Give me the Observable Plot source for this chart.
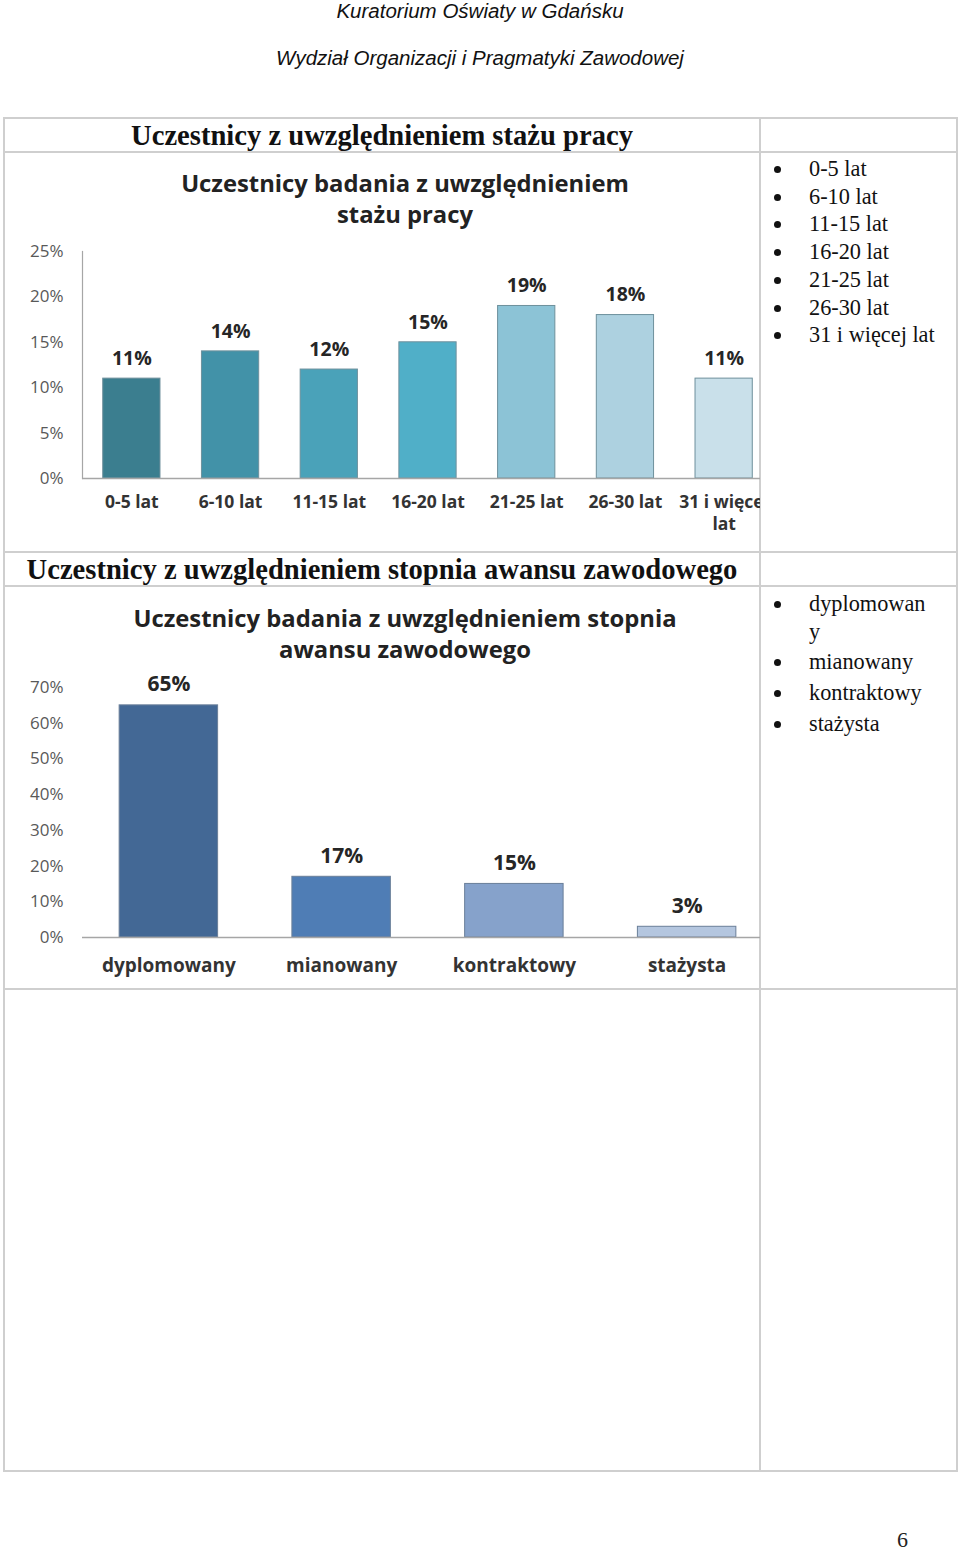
<!DOCTYPE html>
<html>
<head>
<meta charset="utf-8">
<script src="https://cdn.jsdelivr.net/npm/d3@7"></script>
<script src="https://cdn.jsdelivr.net/npm/@observablehq/plot@0.6"></script>
<style>
  html, body { margin: 0; padding: 0; background: #fff; }
  body { width: 960px; height: 1550px; position: relative; overflow: hidden; }
  .abs { position: absolute; }
  .hdr { font-family: "Liberation Sans", Arial, sans-serif; font-style: italic; font-size: 20.5px; color: #111; width: 960px; text-align: center; left: 0; }
  .hl { position: absolute; background: #cfcfcf; height: 2px; }
  .vl { position: absolute; background: #cfcfcf; width: 2px; }
  .sec { font-family: "Liberation Serif", "Times New Roman", serif; font-weight: bold; font-size: 28.6px; color: #111; text-align: center; left: 4px; width: 756px; }
  .ctitle { font-family: "Open Sans", Lato, sans-serif; font-weight: bold; font-size: 23.8px; color: #222; text-align: center; line-height: 31px; }
  ul.leg { position: absolute; margin: 0; padding: 0; list-style: none; font-family: "Liberation Serif", "Times New Roman", serif; font-size: 22.3px; color: #111; }
  ul.leg li { position: relative; padding-left: 47px; width: 140px; line-height: 27.7px; white-space: nowrap; }
  ul.leg li::before { content: ""; position: absolute; left: 12px; top: 11px; width: 7px; height: 7px; border-radius: 50%; background: #111; }
</style>
</head>
<body>
<div class="abs hdr" style="top:-1px;">Kuratorium Oświaty w Gdańsku</div>
<div class="abs hdr" style="top:46px;">Wydział Organizacji i Pragmatyki Zawodowej</div>

<!-- table lines -->
<div class="hl" style="left:4px; width:954px; top:117px;"></div>
<div class="hl" style="left:4px; width:954px; top:151px;"></div>
<div class="hl" style="left:4px; width:954px; top:551px;"></div>
<div class="hl" style="left:4px; width:954px; top:585px;"></div>
<div class="hl" style="left:4px; width:954px; top:988px;"></div>
<div class="hl" style="left:4px; width:954px; top:1470px;"></div>
<div class="vl" style="left:3px; top:117px; height:1355px;"></div>
<div class="vl" style="left:759px; top:117px; height:1355px;"></div>
<div class="vl" style="left:956px; top:117px; height:1355px;"></div>

<div class="abs sec" style="top:120px;">Uczestnicy z uwzględnieniem stażu pracy</div>
<div class="abs sec" style="top:554px;">Uczestnicy z uwzględnieniem stopnia awansu zawodowego</div>

<div id="c1" class="abs" style="left:0; top:152px; width:760px; height:400px; overflow:hidden;"></div>
<div id="c2" class="abs" style="left:0; top:586px; width:760px; height:403px; overflow:hidden;"></div>

<div class="abs ctitle" style="left:55px; width:700px; top:168px;">Uczestnicy badania z uwzględnieniem<br>stażu pracy</div>
<div class="abs ctitle" style="left:55px; width:700px; top:603px;">Uczestnicy badania z uwzględnieniem stopnia<br>awansu zawodowego</div>

<ul class="leg" id="leg1" style="left:762px; top:155px;"></ul>
<ul class="leg" id="leg2" style="left:762px; top:590px;"></ul>

<div class="abs" style="left:897px; top:1527px; font-family:'Liberation Serif',serif; font-size:22px; color:#222;">6</div>

<script>
// ---- Data ----
const stazCategories = ["0-5 lat", "6-10 lat", "11-15 lat", "16-20 lat", "21-25 lat", "26-30 lat", "31 i więcej lat"];
const stazAxisLabels = ["0-5 lat", "6-10 lat", "11-15 lat", "16-20 lat", "21-25 lat", "26-30 lat", "31 i więcej\nlat"];
const stazValues = [11, 14, 12, 15, 19, 18, 11];
const stazColors = ["#3b7e8f", "#4292a8", "#4aa2b9", "#50afc8", "#8cc3d6", "#add1e0", "#c9e0ea"];
const stazTicks = [0, 5, 10, 15, 20, 25];

const awansCategories = ["dyplomowany", "mianowany", "kontraktowy", "stażysta"];
const awansLegend = ["dyplomowan\ny", "mianowany", "kontraktowy", "stażysta"];
const awansValues = [65, 17, 15, 3];
const awansColors = ["#436895", "#4f7db5", "#86a2cb", "#b4c6df"];
const awansTicks = [0, 10, 20, 30, 40, 50, 60, 70];

// ---- Legends ----
function fillLegend(id, items, gap) {
  const ul = document.getElementById(id);
  items.forEach(t => {
    const li = document.createElement("li");
    t.split("\n").forEach((part, k) => {
      if (k) li.appendChild(document.createElement("br"));
      li.appendChild(document.createTextNode(part));
    });
    li.style.marginBottom = gap + "px";
    ul.appendChild(li);
  });
}
fillLegend("leg1", stazCategories, 0);
fillLegend("leg2", awansLegend, 3);

const chartFont = "'Open Sans', Lato, sans-serif";

// ---- Chart 1 ----
const d1 = stazCategories.map((c, i) => ({cat: c, label: stazAxisLabels[i], v: stazValues[i], color: stazColors[i]}));
const chart1 = Plot.plot({
  width: 760, height: 400,
  marginLeft: 82, marginRight: 0, marginTop: 99, marginBottom: 74,
  style: {fontFamily: chartFont, overflow: "hidden", background: "transparent"},
  x: {domain: stazCategories, range: [82, 773], round: false, paddingInner: 0.42, paddingOuter: 0.21, axis: null},
  y: {domain: [0, 25], axis: null},
  marks: [
    Plot.barY(d1, {x: "cat", y: "v", fill: "color", stroke: "#6e909c", strokeWidth: 1}),
    Plot.frame({anchor: "left", stroke: "#a6a6a6", strokeWidth: 1.2}),
    Plot.ruleY([0], {stroke: "#a6a6a6", strokeWidth: 1.5}),
    Plot.axisY({ticks: stazTicks, tickSize: 0, tickPadding: 19, label: null, tickFormat: d => d + "%", fontSize: 17, fill: "#595959"}),
    Plot.text(d1, {x: "cat", y: "v", text: d => d.v + "%", dy: -20, fontSize: 19.5, fontWeight: "bold", fill: "#262626"}),
    Plot.text(d1, {x: "cat", y: 0, text: "label", dy: 14, lineAnchor: "top", fontSize: 17.5, fontWeight: "bold", fill: "#333", lineHeight: 1.25})
  ]
});
document.getElementById("c1").appendChild(chart1);

// ---- Chart 2 ----
const d2 = awansCategories.map((c, i) => ({cat: c, v: awansValues[i], color: awansColors[i]}));
const chart2 = Plot.plot({
  width: 760, height: 403,
  marginLeft: 82, marginRight: 0, marginTop: 101, marginBottom: 52,
  style: {fontFamily: chartFont, overflow: "hidden", background: "transparent"},
  x: {domain: awansCategories, range: [82, 773], round: false, paddingInner: 0.43, paddingOuter: 0.215, axis: null},
  y: {domain: [0, 70], axis: null},
  marks: [
    Plot.barY(d2, {x: "cat", y: "v", fill: "color", stroke: "#6a7f99", strokeWidth: 1}),
    Plot.ruleY([0], {stroke: "#a6a6a6", strokeWidth: 1.5}),
    Plot.axisY({ticks: awansTicks, tickSize: 0, tickPadding: 19, label: null, tickFormat: d => d + "%", fontSize: 17, fill: "#595959"}),
    Plot.text(d2, {x: "cat", y: "v", text: d => d.v + "%", dy: -21, fontSize: 21, fontWeight: "bold", fill: "#262626"}),
    Plot.text(d2, {x: "cat", y: 0, text: "cat", dy: 28, fontSize: 19, fontWeight: "bold", fill: "#333"})
  ]
});
document.getElementById("c2").appendChild(chart2);
</script>
</body>
</html>
